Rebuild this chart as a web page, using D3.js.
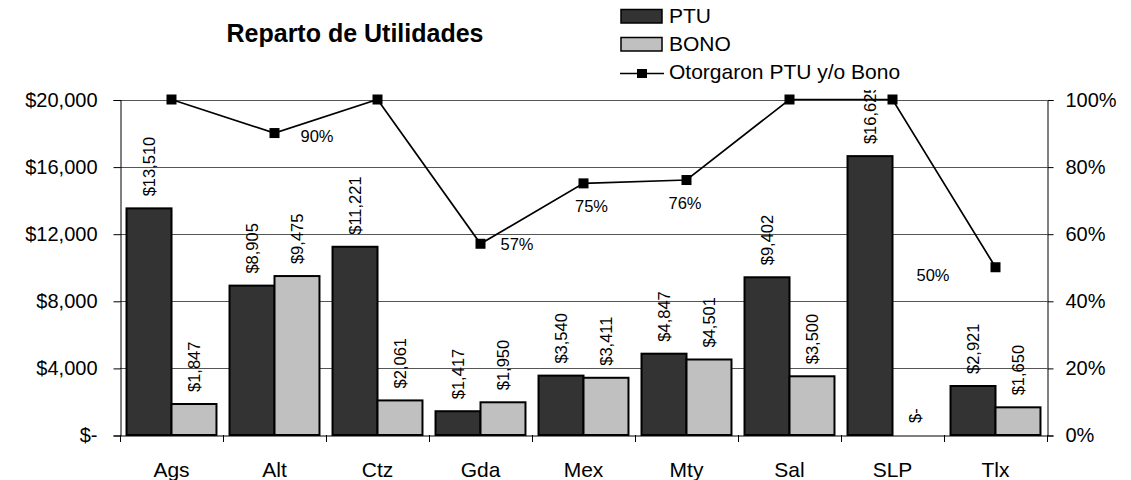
<!DOCTYPE html>
<html>
<head>
<meta charset="utf-8">
<script src="https://cdn.jsdelivr.net/npm/d3@7"></script>
<style>
body { margin: 0; background: #fff; }
text { font-family: "Liberation Sans", Arial, sans-serif; }
</style>
</head>
<body>
<div class="contents"></div>
<script>
var width = 1131;
var height = 480;

var categories = ["Ags", "Alt", "Ctz", "Gda", "Mex", "Mty", "Sal", "SLP", "Tlx"];
var ptu = [13510, 8905, 11221, 1417, 3540, 4847, 9402, 16625, 2921];
var bono = [1847, 9475, 2061, 1950, 3411, 4501, 3500, 0, 1650];
var otorgaron = [100, 90, 100, 57, 75, 76, 100, 100, 50];
var leftTicks = [0, 4000, 8000, 12000, 16000, 20000];
var rightTicks = [0, 20, 40, 60, 80, 100];

var margin = {left: 120, right: 1047, top: 99.5, bottom: 435};

var svg = d3.select(".contents").append("svg")
	.attr("width", width)
	.attr("height", height);

var x = d3.scaleBand().domain(categories).range([margin.left, margin.right]).paddingInner(0).paddingOuter(0);
var sub = d3.scaleBand().domain(["ptu", "bono"]).range([0, x.bandwidth()]).paddingOuter(0.145).paddingInner(0);
var y = d3.scaleLinear().domain([0, 20000]).range([margin.bottom, margin.top]);
var y2 = d3.scaleLinear().domain([0, 100]).range([margin.bottom, margin.top]);

var money = function(v){ return v === 0 ? "$-" : "$" + d3.format(",")(v); };

// gridlines
svg.selectAll("line.grid")
	.data(leftTicks.slice(1))
	.enter()
	.append("line")
	.attr("x1", margin.left).attr("x2", margin.right)
	.attr("y1", function(d){ return Math.round(y(d)) + 0.5; })
	.attr("y2", function(d){ return Math.round(y(d)) + 0.5; })
	.style("stroke", "#555")
	.style("stroke-width", 1);

// axes
var leftAxis = d3.axisLeft(y).tickValues(leftTicks).tickSize(7).tickPadding(16)
	.tickFormat(function(d){ return d === 0 ? "$-" : "$" + d3.format(",")(d); });
var gl = svg.append("g").attr("transform", "translate(" + (margin.left + 0.5) + ",0.5)").call(leftAxis);
var rightAxis = d3.axisRight(y2).tickValues(rightTicks).tickSize(6).tickPadding(12)
	.tickFormat(function(d){ return d + "%"; });
var gr = svg.append("g").attr("transform", "translate(" + (margin.right + 0.5) + ",0.5)").call(rightAxis);
var bottomAxis = d3.axisBottom(x).tickSize(0).tickPadding(27);
var gb = svg.append("g").attr("transform", "translate(0," + (margin.bottom + 0.5) + ")").call(bottomAxis);

[gl, gr, gb].forEach(function(g){
	g.select(".domain").style("stroke", "#000");
	g.selectAll(".tick line").style("stroke", "#000");
	g.selectAll("text").style("font-size", "20px").style("fill", "#000")
		.style("font-family", "'Liberation Sans', Arial, sans-serif");
});
gb.selectAll("text").style("font-size", "21px");

// category separator ticks
svg.selectAll("line.ctick")
	.data(d3.range(categories.length + 1))
	.enter()
	.append("line")
	.attr("x1", function(i){ return Math.round(margin.left + i * x.step()) + 0.5; })
	.attr("x2", function(i){ return Math.round(margin.left + i * x.step()) + 0.5; })
	.attr("y1", margin.bottom)
	.attr("y2", margin.bottom + 7)
	.style("stroke", "#000");

// bars
var groups = svg.selectAll("g.cat")
	.data(categories)
	.enter()
	.append("g")
	.attr("transform", function(d){ return "translate(" + x(d) + ",0)"; });

groups.append("rect")
	.attr("x", sub("ptu"))
	.attr("y", function(d, i){ return y(ptu[i]); })
	.attr("width", sub.bandwidth())
	.attr("height", function(d, i){ return y(0) - y(ptu[i]); })
	.style("fill", "#333333")
	.style("stroke", "#000")
	.style("stroke-width", 2);

groups.append("rect")
	.attr("x", sub("bono"))
	.attr("y", function(d, i){ return y(bono[i]); })
	.attr("width", sub.bandwidth())
	.attr("height", function(d, i){ return y(0) - y(bono[i]); })
	.style("fill", "#c0c0c0")
	.style("stroke", "#000")
	.style("stroke-width", function(d, i){ return bono[i] > 0 ? 2 : 0; });

// bar labels (rotated)
groups.append("text")
	.attr("transform", function(d, i){
		return "translate(" + (sub("ptu") + sub.bandwidth() / 2 + 6) + "," + (y(ptu[i]) - 12) + ") rotate(-90)";
	})
	.style("font-size", "16.5px")
	.text(function(d, i){ return money(ptu[i]); });

groups.append("text")
	.attr("transform", function(d, i){
		return "translate(" + (sub("bono") + sub.bandwidth() / 2 + 6) + "," + (y(bono[i]) - 12) + ") rotate(-90)";
	})
	.style("font-size", "16.5px")
	.text(function(d, i){ return money(bono[i]); });

// line series
var cx = function(i){ return x(categories[i]) + x.bandwidth() / 2; };
var line = d3.line()
	.x(function(d, i){ return cx(i); })
	.y(function(d){ return y2(d); });

svg.append("path")
	.datum(otorgaron)
	.attr("d", line)
	.style("fill", "none")
	.style("stroke", "#000")
	.style("stroke-width", 1.7);

svg.selectAll("rect.mark")
	.data(otorgaron)
	.enter()
	.append("rect")
	.attr("x", function(d, i){ return cx(i) - 5; })
	.attr("y", function(d){ return y2(d) - 5; })
	.attr("width", 10)
	.attr("height", 10)
	.style("fill", "#000");

// percent labels (100% ones are not shown)
var pctOffset = [null, [26, 9], null, [20, 6], [-8.5, 28.5], [-18, 29], null, null, [-79, 14]];
svg.selectAll("text.pct")
	.data(otorgaron.map(function(d, i){ return {v: d, i: i}; })
		.filter(function(d){ return pctOffset[d.i] !== null; }))
	.enter()
	.append("text")
	.attr("x", function(d){ return cx(d.i) + pctOffset[d.i][0]; })
	.attr("y", function(d){ return y2(d.v) + pctOffset[d.i][1]; })
	.style("font-size", "16.5px")
	.text(function(d){ return d.v + "%"; });

// legend (white box covers what is under it)
var legend = svg.append("g");
legend.append("rect")
	.attr("x", 610).attr("y", 0).attr("width", 310).attr("height", 90)
	.style("fill", "#fff");
legend.append("rect")
	.attr("x", 621).attr("y", 9.5).attr("width", 41).attr("height", 13.5)
	.style("fill", "#333333").style("stroke", "#000").style("stroke-width", 1.5);
legend.append("rect")
	.attr("x", 621).attr("y", 37.5).attr("width", 41).attr("height", 13.5)
	.style("fill", "#c0c0c0").style("stroke", "#000").style("stroke-width", 1.5);
legend.append("line")
	.attr("x1", 620).attr("x2", 664).attr("y1", 73.5).attr("y2", 73.5)
	.style("stroke", "#000").style("stroke-width", 1.7);
legend.append("rect")
	.attr("x", 637).attr("y", 69).attr("width", 10).attr("height", 9)
	.style("fill", "#000");
var legendNames = ["PTU", "BONO", "Otorgaron PTU y/o Bono"];
legend.selectAll("text")
	.data(legendNames)
	.enter()
	.append("text")
	.attr("x", 669)
	.attr("y", function(d, i){ return 23 + i * 28; })
	.style("font-size", "21px")
	.text(function(d){ return d; });

// title
svg.append("text")
	.attr("x", 355)
	.attr("y", 41.5)
	.attr("text-anchor", "middle")
	.style("font-size", "25px")
	.style("font-weight", "bold")
	.text("Reparto de Utilidades");
</script>
</body>
</html>
